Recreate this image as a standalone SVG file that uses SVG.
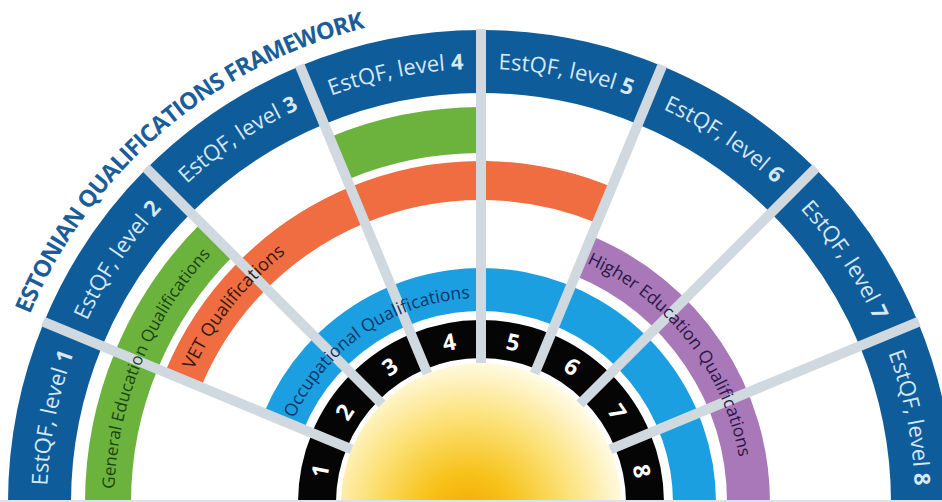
<svg xmlns="http://www.w3.org/2000/svg" width="942" height="502" viewBox="0 0 942 502">
<defs>
<radialGradient id="sunGrad" gradientUnits="userSpaceOnUse" cx="468" cy="520" r="160">
<stop offset="0" stop-color="#f3a700"/>
<stop offset="0.3" stop-color="#f7c31c"/>
<stop offset="0.65" stop-color="#fce27a"/>
<stop offset="1" stop-color="#fffbe4"/>
</radialGradient>
<path id="arcLevel" d="M47,503 A434,434 0 0 1 915,503"/>
<path id="arcTitle" d="M-8,503 A489,489 0 0 1 481,14"/>
<path id="arcGen" d="M114,503 A367,367 0 0 1 481,136"/>
<path id="arcVet" d="M164,503 A317,317 0 0 1 481,186"/>
<path id="arcOcc" d="M276,503 A205,205 0 0 1 481,298"/>
<path id="arcHe" d="M481,241 A262,262 0 0 1 743,503"/>
</defs>
<style>
.lvl{fill:none;stroke:#0e5c9a;stroke-width:63}
.lvlt{font-family:"Open Sans","Noto Sans",sans-serif;font-size:22px;fill:#d6e7f6;text-anchor:middle}
.b{font-weight:700}
.tile{fill:none;stroke:#050505;stroke-width:38}
.num{font-family:"Open Sans","Noto Sans",sans-serif;font-size:23px;font-weight:700;fill:#ffffff;text-anchor:middle}
.band{fill:none}
.div line{stroke:#d0d9e0;stroke-width:10}
.rl{font-family:"Open Sans","Noto Sans",sans-serif;font-size:17.5px;text-anchor:middle}
</style>
<rect x="0" y="0" width="942" height="502" fill="#ffffff"/>

<g id="level-1"><path class="lvl" d="M39.5,503 A441.5,441.5 0 0 1 73.11,334.05"/><text class="lvlt"><textPath href="#arcLevel" startOffset="6.25%">EstQF, level <tspan class="b">1</tspan></textPath></text></g>
<g id="level-2"><path class="lvl" d="M73.11,334.05 A441.5,441.5 0 0 1 168.81,190.81"/><text class="lvlt"><textPath href="#arcLevel" startOffset="18.75%">EstQF, level <tspan class="b">2</tspan></textPath></text></g>
<g id="level-3"><path class="lvl" d="M168.81,190.81 A441.5,441.5 0 0 1 312.05,95.11"/><text class="lvlt"><textPath href="#arcLevel" startOffset="31.25%">EstQF, level <tspan class="b">3</tspan></textPath></text></g>
<g id="level-4"><path class="lvl" d="M312.05,95.11 A441.5,441.5 0 0 1 481,61.5"/><text class="lvlt"><textPath href="#arcLevel" startOffset="43.75%">EstQF, level <tspan class="b">4</tspan></textPath></text></g>
<g id="level-5"><path class="lvl" d="M481,61.5 A441.5,441.5 0 0 1 649.95,95.11"/><text class="lvlt"><textPath href="#arcLevel" startOffset="56.25%">EstQF, level <tspan class="b">5</tspan></textPath></text></g>
<g id="level-6"><path class="lvl" d="M649.95,95.11 A441.5,441.5 0 0 1 793.19,190.81"/><text class="lvlt"><textPath href="#arcLevel" startOffset="68.75%">EstQF, level <tspan class="b">6</tspan></textPath></text></g>
<g id="level-7"><path class="lvl" d="M793.19,190.81 A441.5,441.5 0 0 1 888.89,334.05"/><text class="lvlt"><textPath href="#arcLevel" startOffset="81.25%">EstQF, level <tspan class="b">7</tspan></textPath></text></g>
<g id="level-8"><path class="lvl" d="M888.89,334.05 A441.5,441.5 0 0 1 922.5,503"/><text class="lvlt"><textPath href="#arcLevel" startOffset="93.75%">EstQF, level <tspan class="b">8</tspan></textPath></text></g>

<g id="general-education">
<path class="band" stroke="#6cb33e" stroke-width="46" d="M108,503 A373,373 0 0 1 217.25,239.25"/>
<path class="band" stroke="#6cb33e" stroke-width="46" d="M338.26,158.39 A373,373 0 0 1 481,130"/>
</g>
<g id="vet"><path class="band" stroke="#ef6d40" stroke-width="39" d="M183.05,379.59 A322.5,322.5 0 0 1 604.41,205.05"/></g>
<g id="higher-education"><path class="band" stroke="#a878b9" stroke-width="43" d="M583.37,255.86 A267.5,267.5 0 0 1 748.5,503"/></g>
<g id="occupational"><path class="band" stroke="#1c9fe0" stroke-width="43" d="M283.75,421.3 A213.5,213.5 0 0 1 694.5,503"/></g>

<g id="tile-1"><path class="tile" d="M317,503 A164,164 0 0 1 329.48,440.24"/><text class="num" transform="translate(320.15,471) rotate(-78.75)" dy="0.36em">1</text></g>
<g id="tile-2"><path class="tile" d="M329.48,440.24 A164,164 0 0 1 365.03,387.03"/><text class="num" transform="translate(344.64,411.89) rotate(-56.25)" dy="0.36em">2</text></g>
<g id="tile-3"><path class="tile" d="M365.03,387.03 A164,164 0 0 1 418.24,351.48"/><text class="num" transform="translate(389.89,366.64) rotate(-33.75)" dy="0.36em">3</text></g>
<g id="tile-4"><path class="tile" d="M418.24,351.48 A164,164 0 0 1 481,339"/><text class="num" transform="translate(449,342.15) rotate(-11.25)" dy="0.36em">4</text></g>
<g id="tile-5"><path class="tile" d="M481,339 A164,164 0 0 1 543.76,351.48"/><text class="num" transform="translate(513,342.15) rotate(11.25)" dy="0.36em">5</text></g>
<g id="tile-6"><path class="tile" d="M543.76,351.48 A164,164 0 0 1 596.97,387.03"/><text class="num" transform="translate(572.11,366.64) rotate(33.75)" dy="0.36em">6</text></g>
<g id="tile-7"><path class="tile" d="M596.97,387.03 A164,164 0 0 1 632.52,440.24"/><text class="num" transform="translate(617.36,411.89) rotate(56.25)" dy="0.36em">7</text></g>
<g id="tile-8"><path class="tile" d="M632.52,440.24 A164,164 0 0 1 645,503"/><text class="num" transform="translate(641.85,471) rotate(78.75)" dy="0.36em">8</text></g>

<g id="sun"><circle cx="481" cy="503" r="140" fill="url(#sunGrad)"/></g>

<g id="connectors" class="div">
<line x1="351.66" y1="449.42" x2="43.08" y2="321.61"/>
<line x1="382.01" y1="404.01" x2="145.83" y2="167.83"/>
<line x1="427.42" y1="373.66" x2="299.61" y2="65.08"/>
<line x1="481" y1="363" x2="481" y2="29"/>
<line x1="534.58" y1="373.66" x2="662.39" y2="65.08"/>
<line x1="579.99" y1="404.01" x2="816.17" y2="167.83"/>
<line x1="610.34" y1="449.42" x2="918.92" y2="321.61"/>
</g>

<g id="ring-labels">
<text class="rl" style="font-size:17px;fill:#1a4410"><textPath href="#arcGen" startOffset="143.5">General Education Qualifications</textPath></text>
<text class="rl" style="font-size:18px;fill:#35170f"><textPath href="#arcVet" startOffset="212.4">VET Qualifications</textPath></text>
<text class="rl" style="fill:#0d3466"><textPath href="#arcOcc" startOffset="199">Occupational Qualifications</textPath></text>
<text class="rl" style="fill:#291746"><textPath href="#arcHe" startOffset="237">Higher Education Qualifications</textPath></text>
</g>

<g id="title"><text style="font-family:'Open Sans','Noto Sans',sans-serif;font-size:23.5px;font-weight:700;letter-spacing:-0.8px;fill:#1c5d99;text-anchor:middle"><textPath href="#arcTitle" startOffset="422">ESTONIAN QUALIFICATIONS FRAMEWORK</textPath></text></g>

<rect x="0" y="500" width="942" height="2" fill="#d9e3ea"/>
</svg>
